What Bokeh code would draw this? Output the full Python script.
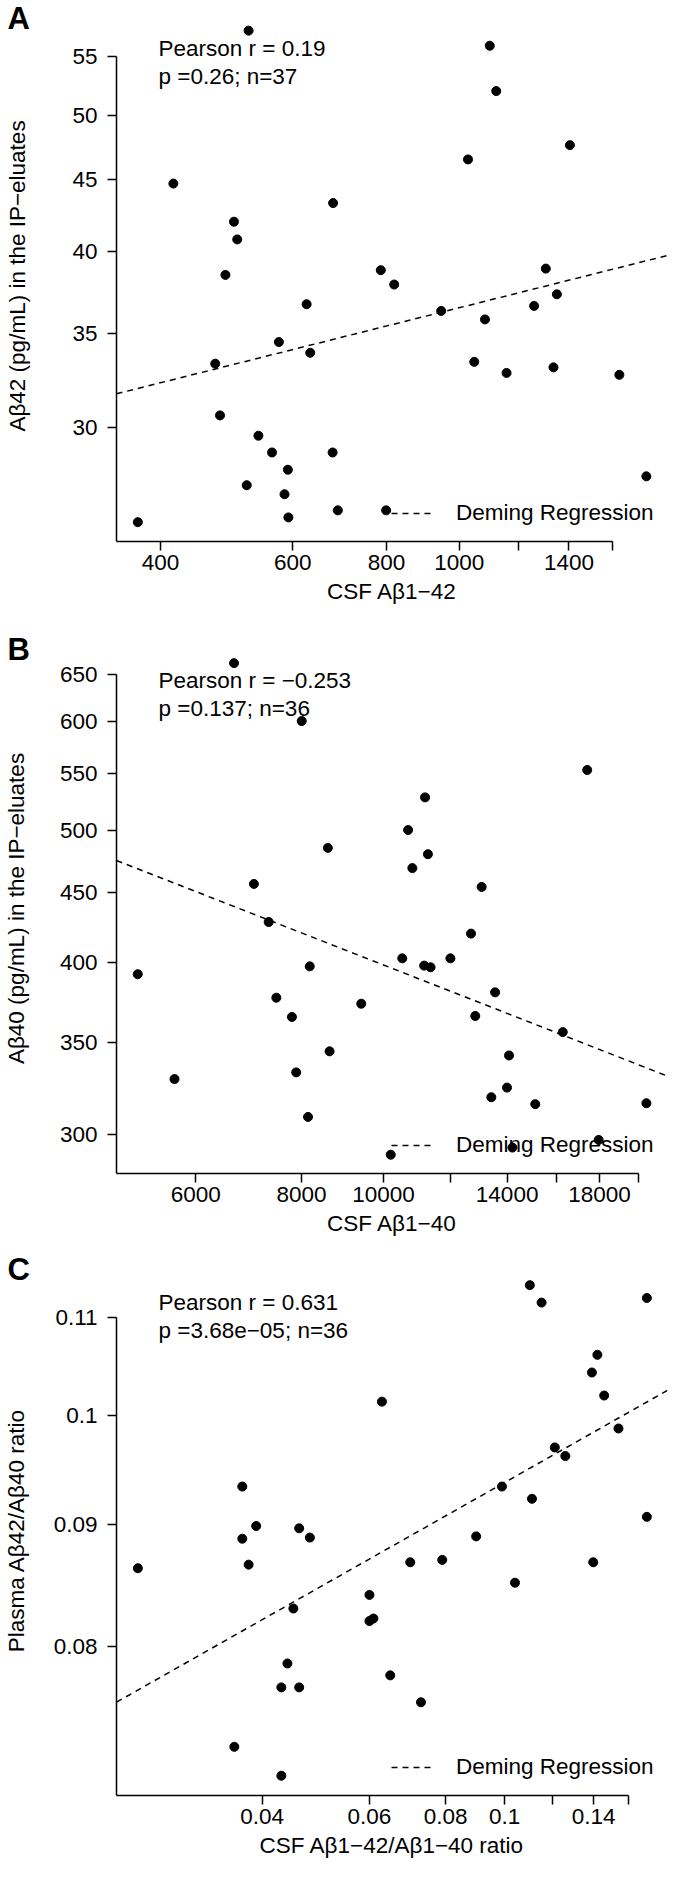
import math
from bokeh.plotting import figure
from bokeh.models import FixedTicker, Label, Legend, LegendItem, Range1d, Title
from bokeh.layouts import column
from bokeh.embed import file_html
from bokeh.resources import INLINE

FONT = "Liberation Sans"
FS = "22.5px"

# ---------------- Panel A ----------------
a_csf_ab1_42 = [524, 1098, 1120, 416, 1027, 1404, 679, 501, 506, 488, 786, 819,
                1304, 1349, 626, 946, 1258, 1082, 575, 473, 633, 1047, 1335, 1156,
                1634, 480, 540, 563, 678, 591, 521, 585, 1775, 689, 799, 592, 373]
a_ip_ab42 = [57.4, 56.0, 52.0, 44.7, 46.5, 47.6, 43.3, 42.0, 40.8, 38.5, 38.8, 37.9,
             38.9, 37.3, 36.7, 36.3, 36.6, 35.8, 34.5, 33.3, 33.9, 33.4, 33.1, 32.8,
             32.7, 30.6, 29.6, 28.8, 28.8, 28.0, 27.3, 26.9, 27.7, 26.2, 26.2, 25.9, 25.7]
a_xticks = [400, 600, 800, 1000, 1200, 1400, 1600]
a_xticklabels = ["400", "600", "800", "1000", "", "1400", ""]
a_yticks = [30, 35, 40, 45, 50, 55]
a_yticklabels = ["30", "35", "40", "45", "50", "55"]
a_xlim = (349.4, 1894.0)
a_ylim = (24.90, 59.32)
a_deming = (14.48, 0.1338)          # y = c * x ** b
a_stats = ["Pearson r = 0.19", "p =0.26; n=37"]
a_xlabel = "CSF A\u03b21\u221242"
a_ylabel = "A\u03b242 (pg/mL) in the IP\u2212eluates"

# ---------------- Panel B ----------------
b_csf_ab1_40 = [6658, 8004, 17410, 11197, 10692, 8594, 11285, 10817, 7028, 13062, 7316, 12689,
                5123, 10524, 11170, 11366, 11997, 8181, 7470, 7794, 9412, 13549, 12837, 16289,
                8635, 14073, 5662, 7885, 13411, 13995, 15114, 20452, 8143, 17960, 14203, 10199]
b_ip_ab40 = [662.0, 600.6, 553.2, 528.3, 500.1, 485.3, 480.2, 469.1, 456.8, 454.5, 428.5, 420.2,
             392.5, 403.1, 398.2, 397.1, 403.1, 397.7, 377.3, 365.3, 373.5, 380.7, 365.9, 356.1,
             344.8, 342.4, 329.1, 332.8, 319.2, 324.4, 315.5, 316.0, 308.8, 297.1, 293.3, 289.8]
b_xticks = [6000, 8000, 10000, 12000, 14000, 16000, 18000, 20000]
b_xticklabels = ["6000", "8000", "10000", "", "14000", "", "18000", ""]
b_yticks = [300, 350, 400, 450, 500, 550, 600, 650]
b_yticklabels = ["300", "350", "400", "450", "500", "550", "600", "650"]
b_xlim = (4835.0, 21661.0)
b_ylim = (280.8, 684.2)
b_deming = (3689.5, -0.2416)
b_stats = ["Pearson r = \u22120.253", "p =0.137; n=36"]
b_xlabel = "CSF A\u03b21\u221240"
b_ylabel = "A\u03b240 (pg/mL) in the IP\u2212eluates"

# ---------------- Panel C ----------------
c_csf_ratio = [0.1100, 0.1150, 0.1712, 0.1420, 0.1391, 0.1457, 0.0629, 0.1538, 0.1209, 0.1258,
               0.0371, 0.0990, 0.1109, 0.1712, 0.0391, 0.0460, 0.0371, 0.0479, 0.0898, 0.0250,
               0.0380, 0.0700, 0.0790, 0.1398, 0.1040, 0.0600, 0.0450, 0.0609, 0.0600, 0.0440,
               0.0649, 0.0430, 0.0460, 0.0729, 0.0360, 0.0430]
c_plasma_ratio = [0.1135, 0.1116, 0.1121, 0.1061, 0.1043, 0.1020, 0.1014, 0.0988, 0.0970, 0.0962,
                  0.0934, 0.0934, 0.0923, 0.0907, 0.0899, 0.0897, 0.0888, 0.0889, 0.0890, 0.0863,
                  0.0866, 0.0868, 0.0870, 0.0868, 0.0851, 0.0841, 0.0830, 0.0822, 0.0820, 0.0787,
                  0.0778, 0.0769, 0.0769, 0.0758, 0.0726, 0.0706]
c_xticks = [0.04, 0.06, 0.08, 0.10, 0.12, 0.14, 0.16]
c_xticklabels = ["0.04", "0.06", "0.08", "0.1", "", "0.14", ""]
c_yticks = [0.08, 0.09, 0.10, 0.11]
c_yticklabels = ["0.08", "0.09", "0.1", "0.11"]
c_xlim = (0.02306, 0.1851)
c_ylim = (0.06926, 0.11568)
c_deming = (0.1309, 0.1449)
c_stats = ["Pearson r = 0.631", "p =3.68e\u221205; n=36"]
c_xlabel = "CSF A\u03b21\u221242/A\u03b21\u221240 ratio"
c_ylabel = "Plasma A\u03b242/A\u03b240 ratio"


def make_panel(letter, xs, ys, xlim, ylim, xticks, xticklabels, yticks, yticklabels,
               deming, stats, xlabel, ylabel, height, top, bottom, ylab_standoff,
               letter_standoff):
    p = figure(width=669, height=height, x_axis_type="log", y_axis_type="log",
               x_range=Range1d(*xlim), y_range=Range1d(*ylim),
               output_backend="svg", toolbar_location=None, title=None,
               min_border_left=111, min_border_right=2,
               min_border_top=top, min_border_bottom=bottom)
    p.outline_line_color = None
    p.xgrid.visible = False
    p.ygrid.visible = False
    p.background_fill_color = "white"
    p.border_fill_color = "white"

    c, b = deming
    lx = [xlim[0], xlim[1]]
    ly = [c * v ** b for v in lx]
    reg = p.line(lx, ly, line_color="black", line_width=1.5, line_dash="6 5")
    p.scatter(xs, ys, size=9, fill_color="black", line_color="black")

    xa = p.xaxis[0]
    ya = p.yaxis[0]
    xa.ticker = FixedTicker(ticks=xticks)
    xa.major_label_overrides = {t: l for t, l in zip(xticks, xticklabels)}
    xa.bounds = (xlim[0], xticks[-1])
    ya.ticker = FixedTicker(ticks=yticks)
    ya.major_label_overrides = {t: l for t, l in zip(yticks, yticklabels)}
    ya.bounds = (ylim[0], yticks[-1])
    for ax in (xa, ya):
        ax.axis_line_color = "black"
        ax.axis_line_width = 1.5
        ax.major_tick_line_color = "black"
        ax.major_tick_line_width = 1.5
        ax.major_tick_in = 0
        ax.major_tick_out = 9
        ax.minor_tick_line_color = None
        ax.major_label_text_font = FONT
        ax.major_label_text_font_size = FS
        ax.major_label_text_color = "black"
        ax.axis_label_text_font = FONT
        ax.axis_label_text_font_size = FS
        ax.axis_label_text_font_style = "normal"
        ax.axis_label_text_color = "black"
    xa.axis_label = xlabel
    ya.axis_label = ylabel
    xa.major_label_standoff = 4
    ya.major_label_standoff = 10
    xa.axis_label_standoff = 6
    ya.axis_label_standoff = ylab_standoff

    # panel letter (outside the frame, so it lives in the "above" side panel)
    p.add_layout(Title(text=letter, align="left", vertical_align="bottom",
                       offset=-109, standoff=letter_standoff,
                       text_font=FONT, text_font_size="31px", text_font_style="bold",
                       text_color="black"), "above")

    for i, s in enumerate(stats):
        p.add_layout(Label(x=42, y=493 - 27.5 * i,
                           x_units="screen", y_units="screen", text=s,
                           text_font=FONT, text_font_size=FS, text_color="black",
                           text_baseline="alphabetic"))

    leg = Legend(items=[LegendItem(label="Deming Regression", renderers=[reg])],
                 location=(275, 15), border_line_color=None, background_fill_alpha=0,
                 padding=0, margin=0, spacing=0, glyph_width=43, glyph_height=20,
                 label_height=20, label_standoff=22, label_text_font=FONT,
                 label_text_font_size=FS, label_text_color="black",
                 label_text_baseline="middle")
    p.add_layout(leg)
    return p


pA = make_panel("A", a_csf_ab1_42, a_ip_ab42, a_xlim, a_ylim, a_xticks, a_xticklabels,
                a_yticks, a_yticklabels, a_deming, a_stats, a_xlabel, a_ylabel,
                623, 10, 82, 39, -51)
pB = make_panel("B", b_csf_ab1_40, b_ip_ab40, b_xlim, b_ylim, b_xticks, b_xticklabels,
                b_yticks, b_yticklabels, b_deming, b_stats, b_xlabel, b_ylabel,
                622, 20, 72, 28, -46)
pC = make_panel("C", c_csf_ratio, c_plasma_ratio, c_xlim, c_ylim, c_xticks, c_xticklabels,
                c_yticks, c_yticklabels, c_deming, c_stats, c_xlabel, c_ylabel,
                623, 20, 73, 22, -43)

layout = column(pA, pB, pC, spacing=0)
open("out.html", "w").write(file_html(layout, INLINE))
